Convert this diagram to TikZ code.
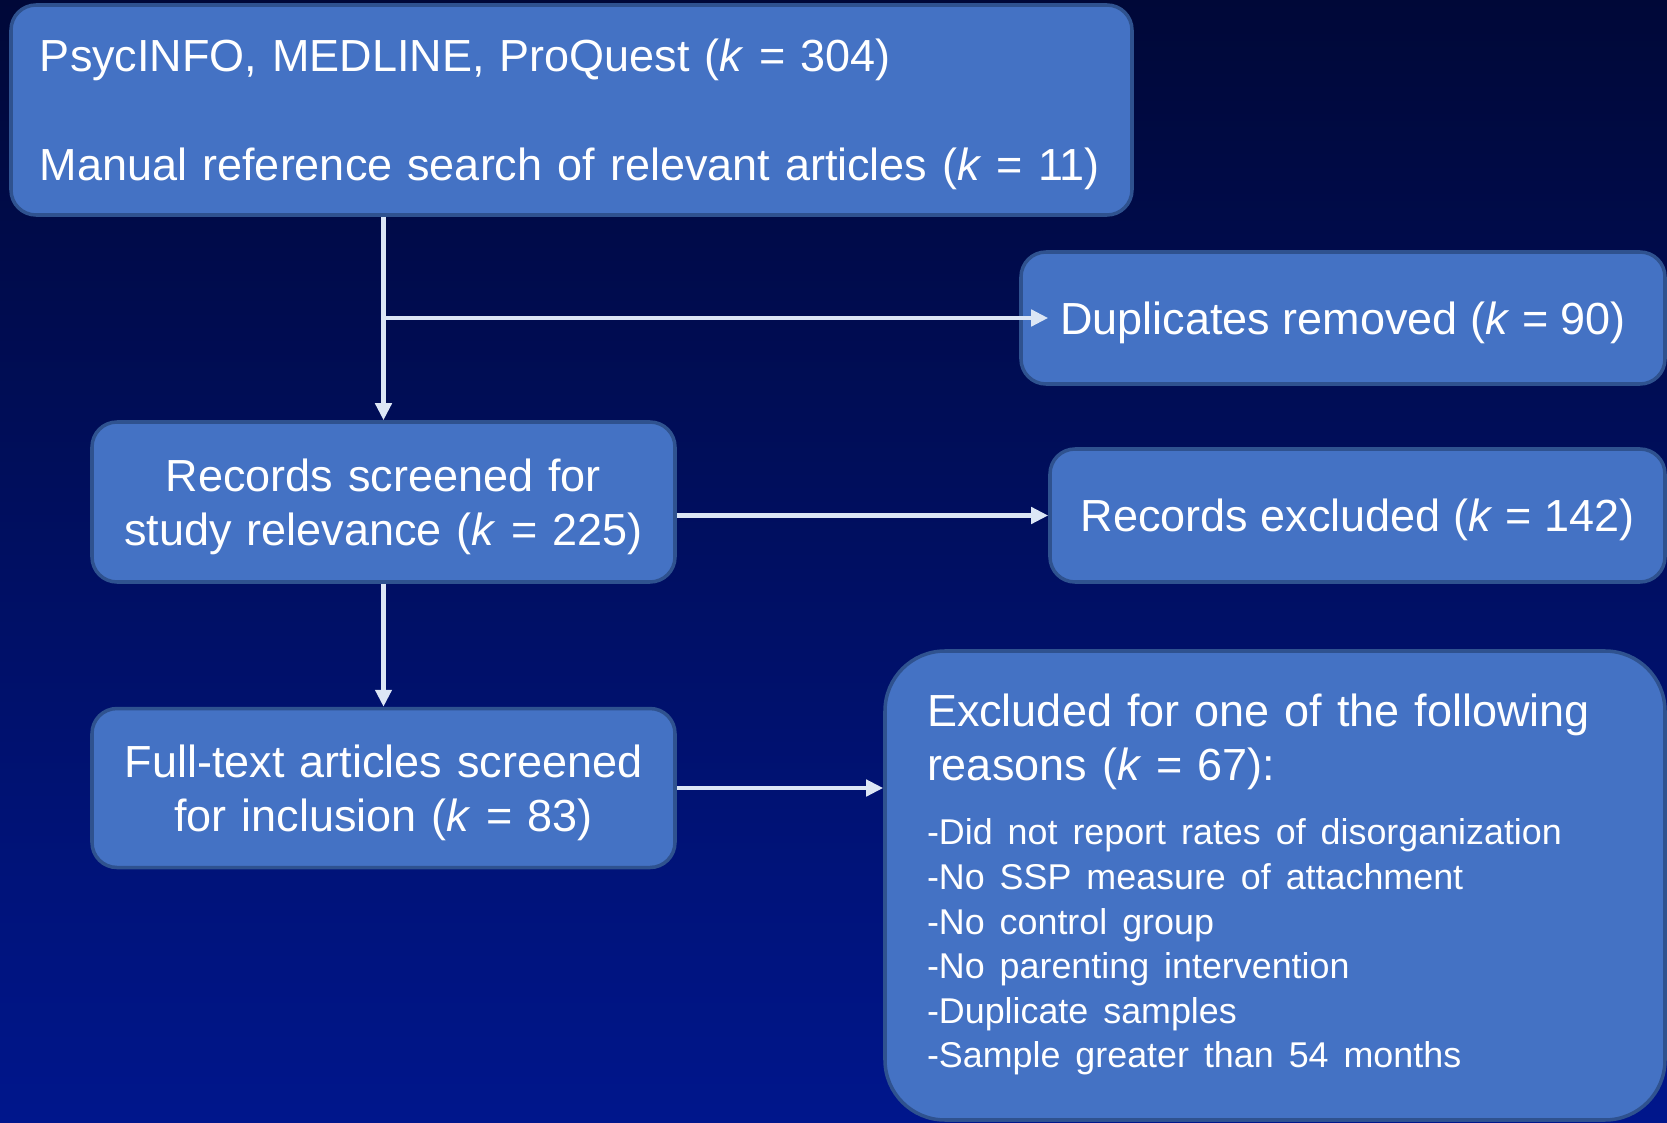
\documentclass[tikz,border=0pt]{standalone}
\usepackage{fontspec}
\setmainfont{Liberation Sans}
\usepackage{tikz}
\usetikzlibrary{positioning}
\usetikzlibrary{arrows.meta}
\usetikzlibrary{calc}

\definecolor{bgtop}{HTML}{000838}
\definecolor{bgbot}{HTML}{00168C}
\definecolor{boxfill}{HTML}{4472C4}
\definecolor{boxline}{HTML}{2F528F}
\definecolor{arrowcol}{HTML}{DCE6F5}

\begin{document}
\begin{tikzpicture}[
    block/.style={rectangle, rounded corners=0.25cm, draw=boxline, line width=1pt, fill=boxfill,
        text=white, font=\fontsize{12.8}{15.4}\selectfont, inner sep=0pt,
        execute at begin node={\rule{0pt}{11.8pt}}},
    flow/.style={draw=arrowcol, line width=1.3pt, -{Triangle[length=0.17cm, width=0.16cm]}},
]
    \useasboundingbox (0,0) rectangle (16.67,-11.23);
    \shade[top color=bgtop, bottom color=bgbot] (0,0) rectangle (16.67,-11.23);

    \node[block, minimum width=11.21cm, minimum height=2.10cm, text width=10.63cm, align=left] (src) at (5.715,-1.10)
        {PsycINFO, MEDLINE, ProQuest (\textit{k} = 304)\\[15.4pt]Manual reference search of relevant articles (\textit{k} = 11)};

    \node[block, minimum width=5.83cm, minimum height=1.60cm, text width=5.5cm, align=center] (screen) at (3.835,-5.02)
        {Records screened for\\study relevance (\textit{k} = 225)};
    \node[block, minimum width=5.83cm, minimum height=1.59cm, text width=5.5cm, align=center] (full) [below=1.23 of screen]
        {Full-text articles screened\\for inclusion (\textit{k} = 83)};

    \node[block, minimum width=6.44cm, minimum height=1.32cm] (dup) at (13.43,-3.18)
        {Duplicates removed (\textit{k} = 90)};
    \node[block, minimum width=6.15cm, minimum height=1.33cm] (rexcl) at (13.575,-5.155)
        {Records excluded (\textit{k} = 142)};

    \node[block, rounded corners=0.6cm, minimum width=7.80cm, minimum height=4.69cm, text width=6.96cm, align=left] (reasons) at (12.75,-8.855)
        {Excluded for one of the following\\reasons (\textit{k} = 67):\par\vspace{5.5pt}
        \fontsize{10.2}{12.7}\selectfont
        -Did not report rates of disorganization\\
        -No SSP measure of attachment\\
        -No control group\\
        -No parenting intervention\\
        -Duplicate samples\\
        -Sample greater than 54 months\rule[-5.1pt]{0pt}{5.1pt}\par};

    \draw[flow] (src.south -| screen.north) -- (screen.north);
    \draw[flow] (screen.north |- dup.west) -- (rexcl.west |- dup.west);
    \draw[flow] (screen.east |- rexcl.west) -- (rexcl.west);
    \draw[flow] (screen.south) -- (full.north);
    \draw[flow] (full.east) -- (full.east -| reasons.west);
\end{tikzpicture}
\end{document}
